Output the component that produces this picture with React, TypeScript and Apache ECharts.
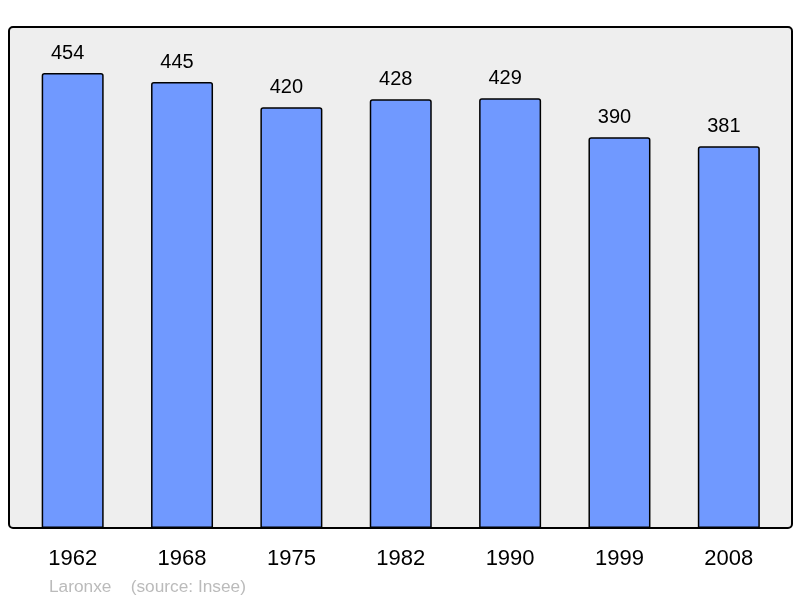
import React, { useEffect, useRef } from "react";
import * as echarts from "echarts";

const years = ["1962", "1968", "1975", "1982", "1990", "1999", "2008"];
const population = [454, 445, 420, 428, 429, 390, 381];
const footerText = "Laronxe    (source: Insee)";

export default function App() {
  const ref = useRef<HTMLDivElement>(null);
  useEffect(() => {
    if (!ref.current) return;
    const chart = echarts.init(ref.current, null, { renderer: "svg" });
    chart.setOption({
      animation: false,
      grid: { left: 18, right: 16.5, top: 27, bottom: 70, containLabel: false },
      graphic: [
        {
          type: "rect",
          z: -10,
          shape: { x: 9, y: 27, width: 783, height: 501, r: 4 },
          style: { fill: "#eeeeee", stroke: "#000000", lineWidth: 2 },
          silent: true,
        },
        {
          type: "text",
          x: 49,
          y: 577,
          style: {
            text: footerText,
            fill: "#bbbbbb",
            font: "17.3px 'Liberation Sans', Arial, sans-serif",
          },
        },
      ],
      xAxis: {
        type: "category",
        data: years,
        axisLine: { show: false },
        axisTick: { show: false },
        axisLabel: {
          color: "#000",
          fontSize: 22,
          fontFamily: "'Liberation Sans', Arial, sans-serif",
          margin: 18,
        },
      },
      yAxis: {
        type: "value",
        min: 0,
        max: 500,
        show: false,
        splitLine: { show: false },
      },
      series: [
        {
          type: "bar",
          data: population,
          barWidth: 62,
          itemStyle: {
            color: "#7099ff",
            borderColor: "#000",
            borderWidth: 1.5,
            borderRadius: [2, 2, 0, 0],
          },
          label: {
            show: true,
            position: "top",
            distance: 11,
            offset: [-5, 0],
            color: "#000",
            fontSize: 20,
            fontFamily: "'Liberation Sans', Arial, sans-serif",
          },
        },
      ],
    });
    return () => chart.dispose();
  }, []);
  return (
    <div
      ref={ref}
      style={{ position: "fixed", left: 0, top: 0, width: 800, height: 598 }}
    />
  );
}
